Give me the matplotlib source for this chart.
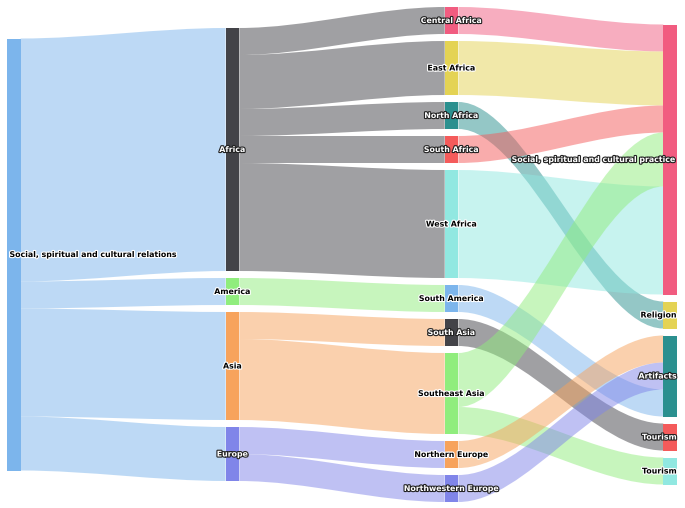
import matplotlib.pyplot as plt
import matplotlib.patheffects as pe
from matplotlib.path import Path
from matplotlib.patches import PathPatch, Rectangle

# node columns, left to right
col0 = ["Relations"]
col1 = ["Africa", "America", "Asia", "Europe"]
col2 = ["Central Africa", "East Africa", "North Africa", "South Africa", "West Africa",
        "South America", "South Asia", "Southeast Asia", "Northern Europe", "Northwestern Europe"]
col3 = ["Practice", "Religion", "Artifacts", "Tourism A", "Tourism B"]
columns = [col0, col1, col2, col3]

labels = {
    "Relations": "Social, spiritual and cultural relations",
    "Practice": "Social, spiritual and cultural practice",
    "Tourism A": "Tourism",
    "Tourism B": "Tourism",
}

# (source, target, weight), listed in the order they leave the source node
flows = [
    ("Relations", "Africa", 9), ("Relations", "America", 1),
    ("Relations", "Asia", 4), ("Relations", "Europe", 2),
    ("Africa", "Central Africa", 1), ("Africa", "East Africa", 2),
    ("Africa", "North Africa", 1), ("Africa", "South Africa", 1),
    ("Africa", "West Africa", 4),
    ("America", "South America", 1),
    ("Asia", "South Asia", 1), ("Asia", "Southeast Asia", 3),
    ("Europe", "Northern Europe", 1), ("Europe", "Northwestern Europe", 1),
    ("Central Africa", "Practice", 1), ("East Africa", "Practice", 2),
    ("North Africa", "Religion", 1), ("South Africa", "Practice", 1),
    ("West Africa", "Practice", 4),
    ("South America", "Artifacts", 1), ("South Asia", "Tourism A", 1),
    ("Southeast Asia", "Practice", 2), ("Southeast Asia", "Tourism B", 1),
    ("Northern Europe", "Artifacts", 1), ("Northwestern Europe", "Artifacts", 1),
]

# stacking order of incoming flows where it differs from the flow list
incoming_order = {
    "Practice": ["Central Africa", "East Africa", "South Africa", "Southeast Asia", "West Africa"],
    "Artifacts": ["Northern Europe", "Northwestern Europe", "South America"],
}

palette = ["#7cb5ec", "#434348", "#90ed7d", "#f7a35c", "#8085e9",
           "#f15c80", "#e4d354", "#2b908f", "#f45b5b", "#91e8e1"]
light_text = {"Africa", "Europe", "Central Africa", "North Africa", "South Africa",
              "South Asia", "Northwestern Europe", "Practice", "Artifacts", "Tourism A"}

unit = 27.0
gap = 7.0
mid_y = 254.5
node_w = 13.7
col_left = [7.0, 225.6, 444.7, 663.3]
curvy = 0.33

all_nodes = [n for col in columns for n in col]
color = {n: palette[i % len(palette)] for i, n in enumerate(all_nodes)}

out_sum = {n: 0 for n in all_nodes}
in_sum = {n: 0 for n in all_nodes}
for s, t, v in flows:
    out_sum[s] += v
    in_sum[t] += v
size = {n: max(out_sum[n], in_sum[n]) for n in all_nodes}

node_x, node_y = {}, {}
for ci, col in enumerate(columns):
    total = sum(size[n] for n in col) * unit + gap * (len(col) - 1)
    y = mid_y - total / 2
    for n in col:
        node_x[n] = col_left[ci]
        node_y[n] = y
        y += size[n] * unit + gap

fig = plt.figure(figsize=(6.85, 5.08), dpi=100)
ax = fig.add_axes([0, 0, 1, 1])
ax.set_xlim(0, 685)
ax.set_ylim(508, 0)
ax.axis("off")

# source-side and target-side offsets
src_off = {n: 0.0 for n in all_nodes}
tgt_start = {}
for t in all_nodes:
    incoming = [(s, v) for s, tt, v in flows if tt == t]
    if t in incoming_order:
        incoming.sort(key=lambda sv: incoming_order[t].index(sv[0]))
    off = 0.0
    for s, v in incoming:
        tgt_start[(s, t)] = off
        off += v * unit

for s, t, v in flows:
    h = v * unit
    x0 = node_x[s] + node_w
    x1 = node_x[t]
    y0 = node_y[s] + src_off[s]
    y1 = node_y[t] + tgt_start[(s, t)]
    src_off[s] += h
    c = curvy * (x1 - x0)
    verts = [(x0, y0), (x0 + c, y0), (x1 - c, y1), (x1, y1),
             (x1, y1 + h), (x1 - c, y1 + h), (x0 + c, y0 + h), (x0, y0 + h), (x0, y0)]
    codes = [Path.MOVETO, Path.CURVE4, Path.CURVE4, Path.CURVE4,
             Path.LINETO, Path.CURVE4, Path.CURVE4, Path.CURVE4, Path.CLOSEPOLY]
    ax.add_patch(PathPatch(Path(verts, codes), facecolor=color[s], alpha=0.5,
                           edgecolor="none", zorder=1))

for ci, col in enumerate(columns):
    for n in col:
        h = size[n] * unit
        ax.add_patch(Rectangle((node_x[n], node_y[n]), node_w, h,
                               facecolor=color[n], edgecolor="none", zorder=2))
        yc = node_y[n] + h / 2
        if ci == 0:
            tx, ha = node_x[n] + 2.5, "left"
        elif ci == len(columns) - 1:
            tx, ha = node_x[n] + node_w, "right"
        else:
            tx, ha = node_x[n] + node_w / 2, "center"
        if n in light_text:
            fc, ec = "white", "#222222"
        else:
            fc, ec = "black", "white"
        ax.text(tx, yc, labels.get(n, n), ha=ha, va="center", fontsize=5.65,
                fontweight="bold", color=fc, zorder=3,
                path_effects=[pe.withStroke(linewidth=1.6, foreground=ec)])

fig.savefig("out.png", dpi=100)
